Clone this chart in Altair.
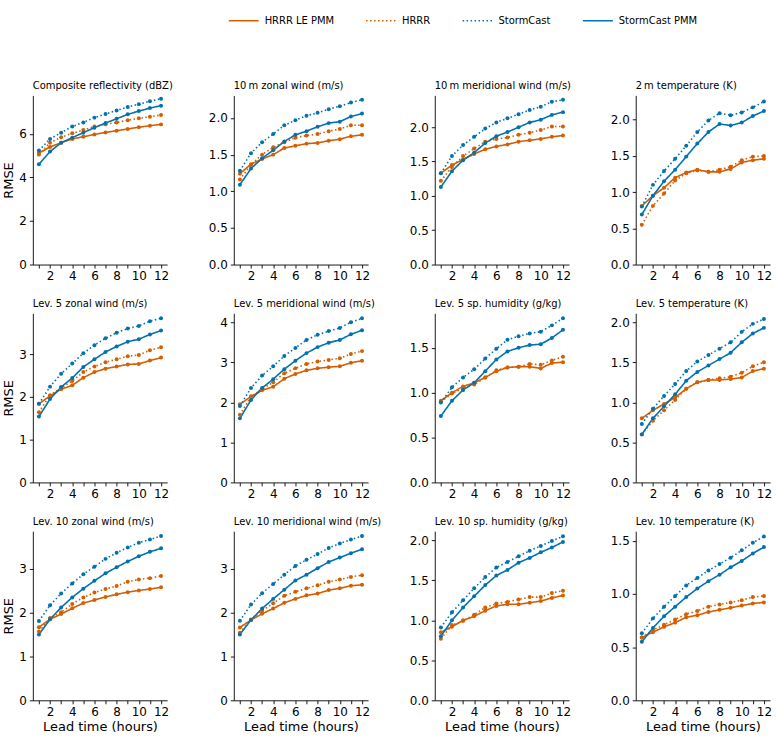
import altair as alt
import pandas as pd

# Lead times (hours)
LEAD = list(range(1, 13))

SERIES = ["HRRR LE PMM", "HRRR", "StormCast", "StormCast PMM"]
COLORS = ["#D55E00", "#D55E00", "#0072B2", "#0072B2"]
DASHES = [[1, 0], [1.5, 2.5], [1.5, 2.5], [1, 0]]

# Composite reflectivity (dBZ)
refl_le = [5.12, 5.40, 5.60, 5.77, 5.87, 5.98, 6.07, 6.15, 6.23, 6.31, 6.38, 6.44]
refl_hrrr = [5.05, 5.60, 5.85, 6.03, 6.18, 6.34, 6.44, 6.53, 6.63, 6.72, 6.79, 6.87]
refl_sc = [5.24, 5.77, 6.06, 6.34, 6.53, 6.75, 6.92, 7.08, 7.24, 7.37, 7.50, 7.62]
refl_scp = [4.61, 5.19, 5.60, 5.83, 6.06, 6.29, 6.50, 6.70, 6.90, 7.05, 7.19, 7.30]

# 10 m zonal wind (m/s)
u10_le = [1.24, 1.37, 1.44, 1.50, 1.59, 1.62, 1.65, 1.66, 1.69, 1.71, 1.75, 1.77]
u10_hrrr = [1.16, 1.36, 1.50, 1.60, 1.67, 1.73, 1.76, 1.78, 1.82, 1.85, 1.90, 1.90]
u10_sc = [1.28, 1.52, 1.67, 1.78, 1.90, 1.97, 2.03, 2.07, 2.12, 2.16, 2.21, 2.25]
u10_scp = [1.09, 1.31, 1.45, 1.56, 1.68, 1.77, 1.82, 1.88, 1.93, 1.95, 2.02, 2.06]

# 10 m meridional wind (m/s)
v10_le = [1.33, 1.45, 1.53, 1.61, 1.68, 1.72, 1.75, 1.79, 1.81, 1.83, 1.86, 1.88]
v10_hrrr = [1.22, 1.42, 1.58, 1.69, 1.79, 1.83, 1.85, 1.89, 1.92, 1.96, 2.01, 2.01]
v10_sc = [1.33, 1.58, 1.74, 1.86, 1.98, 2.07, 2.13, 2.19, 2.25, 2.30, 2.37, 2.40]
v10_scp = [1.13, 1.36, 1.52, 1.63, 1.77, 1.87, 1.93, 2.00, 2.07, 2.11, 2.18, 2.22]

# 2 m temperature (K)
t2_le = [0.81, 0.95, 1.06, 1.20, 1.27, 1.31, 1.28, 1.28, 1.32, 1.41, 1.44, 1.46]
t2_hrrr = [0.55, 0.81, 0.98, 1.16, 1.26, 1.30, 1.28, 1.31, 1.35, 1.44, 1.49, 1.50]
t2_sc = [0.80, 1.10, 1.29, 1.46, 1.64, 1.83, 1.99, 2.09, 2.06, 2.10, 2.17, 2.25]
t2_scp = [0.69, 0.95, 1.15, 1.31, 1.49, 1.67, 1.83, 1.94, 1.92, 1.96, 2.05, 2.12]

# Lev. 5 zonal wind (m/s)
u5_le = [1.84, 2.02, 2.18, 2.27, 2.45, 2.58, 2.66, 2.71, 2.76, 2.77, 2.85, 2.92]
u5_hrrr = [1.64, 2.04, 2.21, 2.37, 2.58, 2.71, 2.81, 2.88, 2.95, 2.98, 3.09, 3.16]
u5_sc = [1.84, 2.24, 2.54, 2.78, 3.02, 3.21, 3.37, 3.50, 3.60, 3.66, 3.77, 3.84]
u5_scp = [1.54, 1.95, 2.23, 2.44, 2.70, 2.88, 3.05, 3.18, 3.29, 3.35, 3.46, 3.55]

# Lev. 5 meridional wind (m/s)
v5_le = [1.95, 2.15, 2.30, 2.39, 2.59, 2.71, 2.80, 2.85, 2.88, 2.90, 2.99, 3.04]
v5_hrrr = [1.69, 2.14, 2.33, 2.50, 2.73, 2.85, 2.96, 3.02, 3.06, 3.10, 3.21, 3.28]
v5_sc = [1.91, 2.36, 2.67, 2.90, 3.16, 3.36, 3.56, 3.69, 3.78, 3.86, 4.00, 4.10]
v5_scp = [1.60, 2.06, 2.36, 2.58, 2.83, 3.04, 3.23, 3.38, 3.49, 3.56, 3.70, 3.80]

# Lev. 5 specific humidity (g/kg)
q5_le = [0.91, 1.00, 1.07, 1.11, 1.17, 1.24, 1.28, 1.29, 1.29, 1.27, 1.33, 1.34]
q5_hrrr = [0.90, 0.99, 1.05, 1.09, 1.17, 1.25, 1.28, 1.29, 1.32, 1.31, 1.36, 1.40]
q5_sc = [0.89, 1.06, 1.17, 1.26, 1.38, 1.49, 1.59, 1.63, 1.66, 1.68, 1.75, 1.83]
q5_scp = [0.74, 0.91, 1.03, 1.11, 1.24, 1.37, 1.46, 1.50, 1.53, 1.54, 1.61, 1.70]

# Lev. 5 temperature (K)
t5_le = [0.80, 0.90, 0.98, 1.06, 1.17, 1.25, 1.28, 1.28, 1.29, 1.31, 1.39, 1.42]
t5_hrrr = [0.60, 0.77, 0.90, 1.03, 1.17, 1.25, 1.28, 1.30, 1.32, 1.37, 1.45, 1.50]
t5_sc = [0.73, 0.92, 1.08, 1.23, 1.39, 1.51, 1.59, 1.67, 1.75, 1.88, 1.98, 2.04]
t5_scp = [0.60, 0.80, 0.95, 1.10, 1.27, 1.38, 1.46, 1.54, 1.62, 1.75, 1.86, 1.93]

# Lev. 10 zonal wind (m/s)
u10l_le = [1.67, 1.85, 1.97, 2.10, 2.22, 2.29, 2.36, 2.42, 2.47, 2.51, 2.54, 2.58]
u10l_hrrr = [1.57, 1.88, 2.01, 2.20, 2.35, 2.46, 2.54, 2.61, 2.71, 2.76, 2.79, 2.84]
u10l_sc = [1.81, 2.17, 2.44, 2.67, 2.88, 3.05, 3.23, 3.37, 3.49, 3.60, 3.67, 3.75]
u10l_scp = [1.50, 1.85, 2.12, 2.35, 2.55, 2.73, 2.90, 3.04, 3.17, 3.29, 3.39, 3.47]

# Lev. 10 meridional wind (m/s)
v10l_le = [1.66, 1.83, 1.97, 2.09, 2.22, 2.31, 2.39, 2.43, 2.51, 2.55, 2.61, 2.63]
v10l_hrrr = [1.54, 1.84, 2.04, 2.21, 2.38, 2.47, 2.55, 2.62, 2.70, 2.75, 2.81, 2.85]
v10l_sc = [1.81, 2.18, 2.44, 2.65, 2.86, 3.06, 3.20, 3.33, 3.47, 3.57, 3.66, 3.74]
v10l_scp = [1.50, 1.83, 2.09, 2.31, 2.52, 2.73, 2.86, 3.01, 3.15, 3.25, 3.35, 3.44]

# Lev. 10 specific humidity (g/kg)
q10_le = [0.85, 0.92, 1.00, 1.05, 1.12, 1.18, 1.20, 1.20, 1.22, 1.24, 1.28, 1.31]
q10_hrrr = [0.77, 0.94, 0.99, 1.07, 1.16, 1.21, 1.23, 1.26, 1.29, 1.29, 1.34, 1.37]
q10_sc = [0.91, 1.10, 1.25, 1.40, 1.54, 1.66, 1.73, 1.80, 1.87, 1.93, 1.99, 2.05]
q10_scp = [0.80, 1.00, 1.16, 1.30, 1.44, 1.56, 1.63, 1.72, 1.78, 1.85, 1.91, 1.98]

# Lev. 10 temperature (K)
t10_le = [0.59, 0.64, 0.69, 0.73, 0.78, 0.80, 0.83, 0.85, 0.87, 0.89, 0.91, 0.92]
t10_hrrr = [0.59, 0.66, 0.71, 0.76, 0.81, 0.84, 0.88, 0.90, 0.92, 0.94, 0.97, 0.98]
t10_sc = [0.63, 0.77, 0.88, 0.98, 1.08, 1.15, 1.22, 1.28, 1.34, 1.41, 1.48, 1.54]
t10_scp = [0.55, 0.68, 0.79, 0.88, 0.97, 1.05, 1.12, 1.18, 1.25, 1.31, 1.38, 1.44]

PANELS = [
    ("Composite reflectivity (dBZ)", [0, 2, 4, 6], "d", [refl_le, refl_hrrr, refl_sc, refl_scp]),
    ("10\u2009m zonal wind (m/s)", [0, 0.5, 1, 1.5, 2], ".1f", [u10_le, u10_hrrr, u10_sc, u10_scp]),
    ("10\u2009m meridional wind (m/s)", [0, 0.5, 1, 1.5, 2], ".1f", [v10_le, v10_hrrr, v10_sc, v10_scp]),
    ("2\u2009m temperature (K)", [0, 0.5, 1, 1.5, 2], ".1f", [t2_le, t2_hrrr, t2_sc, t2_scp]),
    ("Lev. 5 zonal wind (m/s)", [0, 1, 2, 3], "d", [u5_le, u5_hrrr, u5_sc, u5_scp]),
    ("Lev. 5 meridional wind (m/s)", [0, 1, 2, 3, 4], "d", [v5_le, v5_hrrr, v5_sc, v5_scp]),
    ("Lev. 5 sp. humidity (g/kg)", [0, 0.5, 1, 1.5], ".1f", [q5_le, q5_hrrr, q5_sc, q5_scp]),
    ("Lev. 5 temperature (K)", [0, 0.5, 1, 1.5, 2], ".1f", [t5_le, t5_hrrr, t5_sc, t5_scp]),
    ("Lev. 10 zonal wind (m/s)", [0, 1, 2, 3], "d", [u10l_le, u10l_hrrr, u10l_sc, u10l_scp]),
    ("Lev. 10 meridional wind (m/s)", [0, 1, 2, 3], "d", [v10l_le, v10l_hrrr, v10l_sc, v10l_scp]),
    ("Lev. 10 sp. humidity (g/kg)", [0, 0.5, 1, 1.5, 2], ".1f", [q10_le, q10_hrrr, q10_sc, q10_scp]),
    ("Lev. 10 temperature (K)", [0, 0.5, 1, 1.5], ".1f", [t10_le, t10_hrrr, t10_sc, t10_scp]),
]

FONT = "DejaVu Sans"
PLOT_W, PLOT_H = 135, 170

color_scale = alt.Scale(domain=SERIES, range=COLORS)
dash_scale = alt.Scale(domain=SERIES, range=DASHES)

legend = alt.Legend(
    title=None,
    orient="none",
    direction="horizontal",
    legendX=196,
    legendY=-91,
    symbolType="stroke",
    symbolSize=900,
    symbolStrokeWidth=1.6,
    labelFontSize=10,
    labelFont=FONT,
    labelColor="#000",
    columnPadding=28,
    labelOffset=5,
)

charts = []
for i, (title, yticks, fmt, values) in enumerate(PANELS):
    rows = []
    for name, vals in zip(SERIES, values):
        for h, v in zip(LEAD, vals):
            rows.append({"lead": h, "rmse": v, "series": name})
    df = pd.DataFrame(rows)

    all_vals = [v for s in values for v in s]
    top = max(all_vals) + 0.05 * (max(all_vals) - min(all_vals))

    col, row = i % 4, i // 4
    x_enc = alt.X(
        "lead:Q",
        scale=alt.Scale(domain=[0.45, 12.55], nice=False, zero=False),
        axis=alt.Axis(
            values=LEAD,
            labelExpr="datum.value % 2 == 0 ? datum.label : ''",
            title="Lead time (hours)" if row == 2 else None,
        ),
    )
    y_enc = alt.Y(
        "rmse:Q",
        scale=alt.Scale(domain=[0, top], nice=False),
        axis=alt.Axis(values=yticks, format=fmt, title="RMSE" if col == 0 else None),
    )
    base = alt.Chart(df)
    line = base.mark_line(strokeWidth=1.6).encode(
        x=x_enc,
        y=y_enc,
        color=alt.Color("series:N", scale=color_scale, sort=SERIES, legend=legend),
        strokeDash=alt.StrokeDash("series:N", scale=dash_scale, sort=SERIES, legend=legend),
    )
    dots = base.mark_circle(size=16, opacity=1).encode(
        x=x_enc,
        y=y_enc,
        color=alt.Color("series:N", scale=color_scale, sort=SERIES, legend=None),
    )
    charts.append(
        alt.layer(line, dots).properties(
            width=PLOT_W,
            height=PLOT_H,
            title=alt.TitleParams(
                title, anchor="start", frame="group", fontSize=10, fontWeight="normal",
                font=FONT, color="#000", offset=4, limit=400,
            ),
        )
    )

chart = (
    alt.concat(*charts, columns=4, spacing={"row": 49, "column": 67}, bounds="flush")
    .properties(padding={"left": 2, "top": 3, "right": 5, "bottom": 5})
    .configure_view(stroke=None)
    .configure_axis(
        grid=False,
        domainColor="#000",
        tickColor="#000",
        labelColor="#000",
        titleColor="#000",
        labelFont=FONT,
        titleFont=FONT,
        labelFontSize=12,
        titleFontSize=13,
        titleFontWeight="normal",
        tickSize=3.5,
        labelPadding=3,
        titlePadding=3,
        domainWidth=0.9,
        tickWidth=0.9,
    )
)

chart.save("out.html", embed_options={"renderer": "svg", "actions": False})
